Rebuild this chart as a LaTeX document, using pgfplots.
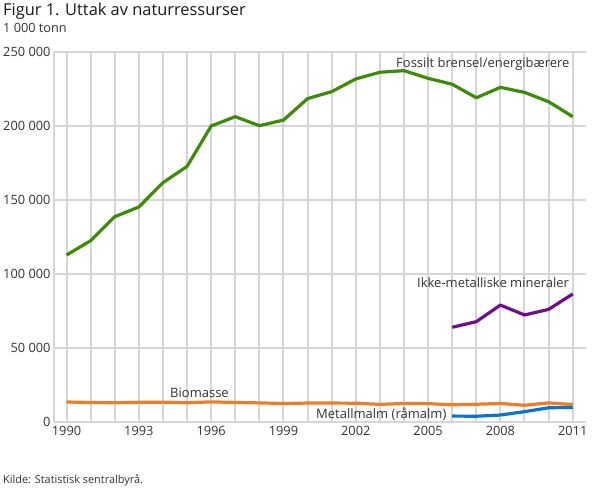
\documentclass[border=0pt]{standalone}
\usepackage{fontspec}
\setmainfont{Open Sans}
\usepackage{pgfplots}
\pgfplotsset{compat=1.18}
\definecolor{cgreen}{HTML}{3E8A0A}
\definecolor{cpurple}{HTML}{6E0E8E}
\definecolor{corange}{HTML}{EE7D2B}
\definecolor{cblue}{HTML}{0B74D2}
\definecolor{cgrid}{HTML}{D6D6D6}
\definecolor{ctext}{HTML}{333333}
\begin{document}
\begin{tikzpicture}
\path[use as bounding box] (0bp,0bp) rectangle (610bp,488bp);
\begin{axis}[
  at={(54bp,66bp)}, anchor=south west, scale only axis,
  width=532bp, height=370bp,
  xmin=1989.48, xmax=2011.55, ymin=0, ymax=250000,
  axis x line*=bottom, axis y line*=left,
  axis line style={cgrid, line width=2bp, -},
  xtick={1990,...,2011},
  xticklabels={1990,,,1993,,,1996,,,1999,,,2002,,,2005,,,2008,,,2011},
  ytick={0,50000,...,250000},
  grid=major,
  major grid style={cgrid, line width=2bp},
  major tick length=0pt,
  scaled y ticks=false,
  /pgf/number format/assume math mode=true,
  xticklabel style={font=\fontsize{12.8bp}{14bp}\selectfont, text=ctext, yshift=-1bp},
  yticklabel style={/pgf/number format/.cd, fixed, 1000 sep={\ }, /tikz/.cd, font=\fontsize{12.8bp}{14bp}\selectfont, text=ctext},
  every axis plot/.append style={line width=3.2bp, line join=round, no markers},
]
\addplot[corange] coordinates {
(1990,13500) (1991,13200) (1992,13000) (1993,13300) (1994,13400) (1995,13000)
(1996,13600) (1997,13200) (1998,12900) (1999,12500) (2000,12800) (2001,12800)
(2002,12700) (2003,11900) (2004,12500) (2005,12400) (2006,11600) (2007,12000)
(2008,12500) (2009,11300) (2010,12900) (2011,11800)};
\addplot[cblue] coordinates {
(2006,4000) (2007,3900) (2008,4700) (2009,7000) (2010,9600) (2011,9900)};
\addplot[cpurple] coordinates {
(2006,64000) (2007,67800) (2008,79000) (2009,72300) (2010,76100) (2011,86500)};
\addplot[cgreen] coordinates {
(1990,112800) (1991,122500) (1992,138700) (1993,145300) (1994,161700) (1995,172700)
(1996,200000) (1997,206300) (1998,200200) (1999,204000) (2000,218500) (2001,223200)
(2002,231800) (2003,236300) (2004,237400) (2005,232200) (2006,228200) (2007,219100)
(2008,226100) (2009,222700) (2010,216400) (2011,206300)};
\end{axis}
\node[anchor=base west, inner sep=0, text=black!90, font=\fontsize{16.4bp}{19bp}\selectfont] at (3bp,472bp) {Figur 1. Uttak av naturressurser};
\node[anchor=base west, inner sep=0, text=ctext, font=\fontsize{12.7bp}{14bp}\selectfont] at (3bp,455.3bp) {1 000 tonn};
\node[anchor=base west, inner sep=0, text=ctext, font=\fontsize{10.9bp}{12bp}\selectfont] at (3bp,5bp) {Kilde: Statistisk sentralbyrå.};
\begin{scope}[every node/.style={anchor=base west, inner sep=0, text=ctext, font=\fontsize{13bp}{15bp}\selectfont}]
\node at (396bp,420.7bp) {Fossilt brensel/energibærere};
\node at (417bp,200bp) {Ikke-metalliske mineraler};
\node at (170bp,90.7bp) {Biomasse};
\node at (316bp,69.7bp) {Metallmalm (råmalm)};
\end{scope}
\end{tikzpicture}
\end{document}
